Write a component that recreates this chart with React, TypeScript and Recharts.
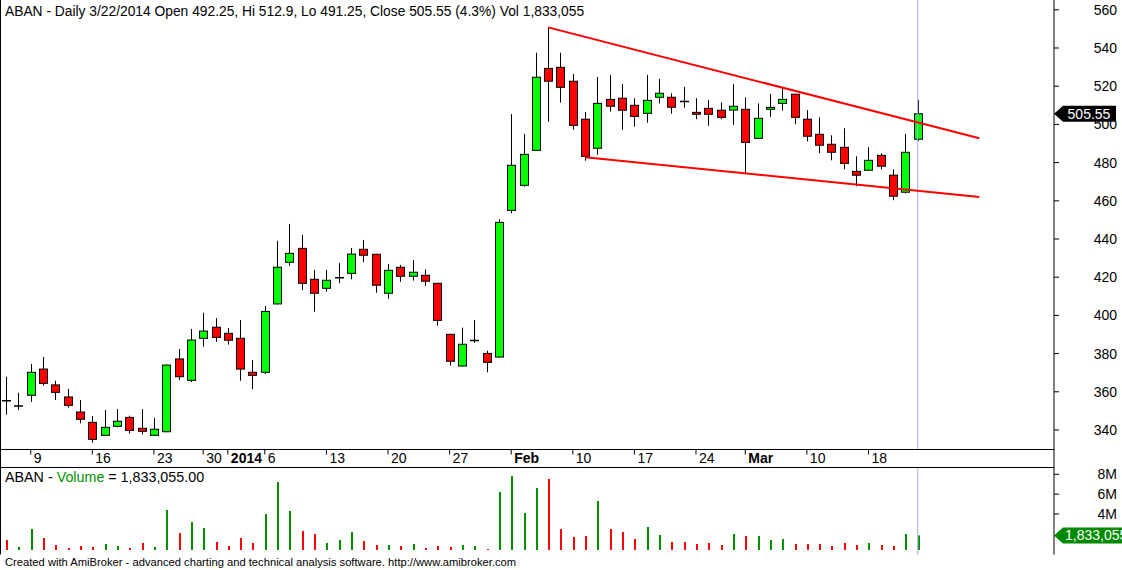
import React from 'react';
import { ComposedChart, Bar, XAxis, YAxis, ReferenceLine } from 'recharts';

// ---------- data ----------
const dates = [
  '2013-12-05', '2013-12-06', '2013-12-09', '2013-12-10', '2013-12-11', '2013-12-12', '2013-12-13',
  '2013-12-16', '2013-12-17', '2013-12-18', '2013-12-19', '2013-12-20', '2013-12-23', '2013-12-24',
  '2013-12-26', '2013-12-27', '2013-12-30', '2013-12-31', '2014-01-01', '2014-01-02', '2014-01-03',
  '2014-01-06', '2014-01-07', '2014-01-08', '2014-01-09', '2014-01-10', '2014-01-13', '2014-01-14',
  '2014-01-15', '2014-01-16', '2014-01-17', '2014-01-20', '2014-01-21', '2014-01-22', '2014-01-23',
  '2014-01-24', '2014-01-27', '2014-01-28', '2014-01-29', '2014-01-30', '2014-01-31', '2014-02-03',
  '2014-02-04', '2014-02-05', '2014-02-06', '2014-02-07', '2014-02-10', '2014-02-11', '2014-02-12',
  '2014-02-13', '2014-02-14', '2014-02-17', '2014-02-18', '2014-02-19', '2014-02-20', '2014-02-21',
  '2014-02-24', '2014-02-25', '2014-02-26', '2014-02-28', '2014-03-03', '2014-03-04', '2014-03-05',
  '2014-03-06', '2014-03-07', '2014-03-10', '2014-03-11', '2014-03-12', '2014-03-13', '2014-03-14',
  '2014-03-18', '2014-03-19', '2014-03-20', '2014-03-21', '2014-03-22',
];

const opens = [
  355.3, 352.6, 358.2, 371.9, 363.6, 357.3, 349.4, 344.0, 337.2, 341.9, 346.6, 340.9, 337.2, 339.1,
  377.2, 366.0, 388.0, 393.8, 390.6, 388.0, 370.2, 370.2, 406.0, 427.8, 435.1, 418.9, 414.2, 419.7,
  422.0, 434.6, 432.0, 411.6, 425.2, 420.5, 421.0, 416.8, 390.1, 373.5, 386.8, 380.1, 378.2, 455.0,
  468.1, 486.4, 529.3, 529.9, 522.6, 502.7, 487.5, 513.1, 513.7, 510.0, 505.8, 514.2, 514.2, 512.0,
  506.3, 508.4, 507.4, 507.5, 507.9, 492.7, 507.9, 511.0, 515.8, 502.7, 494.8, 489.6, 488.0, 475.4,
  476.0, 483.8, 473.4, 464.5, 492.25,
];
const highs = [
  367.9, 359.5, 374.6, 378.2, 365.8, 361.5, 355.7, 347.3, 350.5, 351.0, 347.5, 351.0, 346.4, 374.2,
  382.4, 392.9, 401.4, 398.6, 393.4, 397.6, 376.6, 404.9, 439.1, 447.9, 442.1, 423.8, 423.8, 427.4,
  435.3, 439.5, 432.3, 426.9, 426.4, 429.0, 424.1, 417.0, 390.3, 393.6, 397.6, 381.5, 450.3, 505.4,
  495.0, 537.5, 550.8, 537.5, 526.4, 506.5, 524.8, 525.9, 521.2, 513.7, 525.9, 523.8, 516.3, 519.6,
  513.7, 512.8, 511.5, 521.2, 514.2, 511.0, 515.9, 518.9, 516.0, 507.5, 503.7, 494.3, 498.0, 483.3,
  488.0, 484.9, 476.5, 495.0, 512.9,
];
const lows = [
  348.0, 350.5, 354.7, 363.2, 355.7, 351.7, 343.5, 333.4, 337.0, 341.4, 338.1, 337.7, 337.0, 338.8,
  366.2, 365.1, 383.6, 386.2, 384.7, 365.8, 361.3, 369.3, 405.8, 426.0, 413.3, 401.9, 412.4, 416.8,
  418.9, 427.8, 411.9, 408.7, 417.6, 418.2, 415.5, 394.6, 373.7, 373.3, 385.7, 370.2, 378.0, 453.5,
  467.4, 486.2, 501.4, 511.4, 497.2, 481.0, 484.1, 506.7, 497.2, 498.8, 500.9, 511.0, 505.6, 508.7,
  502.7, 499.3, 502.7, 499.8, 474.4, 492.5, 504.0, 507.2, 500.1, 491.1, 484.9, 481.2, 476.5, 467.6,
  475.8, 476.5, 460.3, 463.9, 491.25,
];
const closes = [
  355.1, 352.6, 370.2, 364.4, 359.7, 352.9, 345.6, 335.1, 341.4, 344.6, 339.8, 339.3, 340.4, 374.0,
  367.9, 387.1, 391.8, 388.5, 387.0, 371.9, 368.6, 402.1, 425.2, 432.5, 416.8, 411.6, 418.4, 419.7,
  432.1, 431.5, 415.8, 423.6, 420.5, 422.6, 417.9, 397.4, 376.0, 384.9, 386.8, 375.4, 448.7, 478.6,
  484.3, 524.7, 522.6, 519.4, 499.5, 483.3, 511.0, 509.5, 507.4, 504.2, 512.6, 516.3, 509.0, 511.85,
  505.3, 505.3, 503.7, 509.5, 490.6, 503.2, 508.9, 513.1, 503.7, 493.8, 489.1, 485.4, 479.6, 473.4,
  481.2, 478.1, 462.4, 485.4, 505.55,
];
const volumes = [
  1372000, 666000, 2482000, 1574000, 868000, 565000, 767000, 666000, 969000, 767000, 565000, 1070000,
  666000, 4400000, 2079000, 3189000, 2583000, 1171000, 767000, 1574000, 1070000, 3996000, 7225000,
  4299000, 2281000, 1978000, 1070000, 1372000, 2180000, 1271000, 868000, 868000, 767000, 969000,
  565000, 767000, 666000, 868000, 767000, 464000, 6216000, 7830000, 4097000, 6620000, 7528000,
  2482000, 1675000, 1776000, 5308000, 2482000, 2180000, 1473000, 2684000, 1877000, 1171000, 1171000,
  969000, 1070000, 868000, 1978000, 1776000, 1776000, 1372000, 1473000, 969000, 969000, 969000,
  767000, 1070000, 868000, 1070000, 868000, 767000, 1978000, 1833055,
];

const dateTickBars = [3, 8, 13, 17, 19, 22, 27, 32, 37, 42, 47, 52, 57, 61, 66, 71];
const dateTickLabels = ['9', '16', '23', '30', '2014', '6', '13', '20', '27', 'Feb', '10', '17', '24', 'Mar', '10', '18'];
const dateTickBold = [false, false, false, false, true, false, false, false, false, true, false, false, false, true, false, false];

const priceTicks = [340, 360, 380, 400, 420, 440, 460, 480, 500, 520, 540, 560];
const volumeTicks = [4000000, 6000000, 8000000];

const upperTrend = [{ x: 45, y: 550.8 }, { x: 80, y: 492.7 }];
const lowerTrend = [{ x: 48, y: 482.8 }, { x: 80, y: 462.0 }];

const lastBar = 75;
const lastClose = 505.55;
const lastVolume = 1833055;

// ---------- setup ----------
const FONT = "'Liberation Sans', Arial, sans-serif";
const X_DOMAIN: [number, number] = [0.505, 86.06];
const PRICE_DOMAIN: [number, number] = [329.79, 565.13];
const VOL_DOMAIN: [number, number] = [-90800, 8686000];
const VOL_BASE = 363000;

const rows = dates.map((d, k) => ({
  i: k + 1,
  date: d,
  open: opens[k],
  high: highs[k],
  low: lows[k],
  close: closes[k],
  volume: volumes[k],
}));

const Candle = (props: any) => {
  const { x, y, width, height, payload } = props;
  if (payload == null || x == null || y == null) return null;
  const top = Math.min(y, y + height);
  const bot = Math.max(y, y + height);
  const { open, close, high, low } = payload;
  const span = high - low || 1;
  const toY = (v: number) => top + ((high - v) / span) * (bot - top);
  const cx = Math.round(x + width / 2);
  const yo = toY(open);
  const yc = toY(close);
  const up = close >= open;
  const doji = Math.abs(close - open) < 0.3;
  return (
    <g>
      <line x1={cx + 0.5} x2={cx + 0.5} y1={top} y2={bot} stroke="#000" strokeWidth={1} />
      {doji ? (
        <line x1={cx - 4} x2={cx + 5} y1={yo} y2={yo} stroke="#000" strokeWidth={1.5} />
      ) : (
        <rect
          x={cx - 3.5}
          y={Math.min(yo, yc)}
          width={8}
          height={Math.max(Math.abs(yc - yo), 1)}
          fill={up ? '#00ff00' : '#ff0000'}
          stroke="#000"
          strokeWidth={1}
        />
      )}
    </g>
  );
};

const VolBar = (props: any) => {
  const { x, y, width, height, payload } = props;
  if (payload == null || x == null || y == null) return null;
  const top = Math.min(y, y + height);
  const bot = Math.max(y, y + height);
  const cx = Math.round(x + width / 2);
  const up = payload.close >= payload.open;
  return <rect x={cx} y={top} width={2} height={bot - top} fill={up ? '#009000' : '#ff0000'} />;
};

const DateTick = (props: any) => {
  const { x, y, payload } = props;
  const k = dateTickBars.indexOf(payload.value);
  if (k < 0) return null;
  return (
    <text
      x={x + 3}
      y={y + 8}
      fontSize={14}
      fontFamily={FONT}
      fontWeight={dateTickBold[k] ? 'bold' : 'normal'}
      fill="#000"
    >
      {dateTickLabels[k]}
    </text>
  );
};

const PriceTick = (props: any) => {
  const { x, y, payload } = props;
  return (
    <text x={x + 58} y={y + 5} textAnchor="end" fontSize={14} fontFamily={FONT} fill="#000">
      {payload.value}
    </text>
  );
};

const VolTick = (props: any) => {
  const { x, y, payload } = props;
  return (
    <text x={x + 58} y={y + 5} textAnchor="end" fontSize={14} fontFamily={FONT} fill="#000">
      {`${payload.value / 1000000}M`}
    </text>
  );
};

const PriceBadge = (props: any) => {
  const vb = props.viewBox;
  if (!vb) return null;
  const xr = vb.x + vb.width;
  const yy = vb.y;
  return (
    <g>
      <polygon
        points={`${xr},${yy} ${xr + 9},${yy - 8} ${xr + 62},${yy - 8} ${xr + 62},${yy + 8} ${xr + 9},${yy + 8}`}
        fill="#000"
      />
      <text x={xr + 35} y={yy + 5} textAnchor="middle" fontSize={14} fontFamily={FONT} fill="#fff">
        {lastClose.toFixed(2)}
      </text>
    </g>
  );
};

const VolBadge = (props: any) => {
  const vb = props.viewBox;
  if (!vb) return null;
  const xr = vb.x + vb.width;
  const yy = vb.y;
  return (
    <g>
      <polygon
        points={`${xr},${yy} ${xr + 9},${yy - 8} ${xr + 80},${yy - 8} ${xr + 80},${yy + 8} ${xr + 9},${yy + 8}`}
        fill="#008a00"
      />
      <text x={xr + 11} y={yy + 5} fontSize={14} fontFamily={FONT} fill="#fff">
        {lastVolume.toLocaleString('en-US')}
      </text>
    </g>
  );
};

export default function App() {
  return (
    <div
      style={{
        position: 'absolute',
        left: 0,
        top: 0,
        width: 1122,
        height: 570,
        background: '#fff',
        overflow: 'hidden',
        fontFamily: FONT,
      }}
    >
      <div style={{ position: 'absolute', left: 0, top: 0 }}>
        <ComposedChart width={1122} height={468} data={rows} margin={{ top: 0, right: 0, bottom: 0, left: 0 }}>
          <XAxis
            dataKey="i"
            type="number"
            domain={X_DOMAIN}
            allowDataOverflow
            ticks={dateTickBars}
            interval={0}
            tick={<DateTick />}
            tickSize={5}
            tickMargin={0}
            height={18.5}
            axisLine={{ stroke: '#000' }}
            tickLine={{ stroke: '#000' }}
          />
          <YAxis
            orientation="right"
            type="number"
            domain={PRICE_DOMAIN}
            allowDataOverflow
            ticks={priceTicks}
            interval={0}
            width={68}
            tick={<PriceTick />}
            tickSize={5}
            tickMargin={0}
            axisLine={{ stroke: '#000' }}
            tickLine={{ stroke: '#000' }}
          />
          <ReferenceLine x={lastBar} stroke="#a8acf0" strokeWidth={1} />
          <Bar
            dataKey={(d: any) => [d.low, d.high]}
            shape={<Candle />}
            barSize={10.3}
            isAnimationActive={false}
          />
          <ReferenceLine segment={upperTrend} stroke="#ff0000" strokeWidth={2} />
          <ReferenceLine segment={lowerTrend} stroke="#ff0000" strokeWidth={2} />
          <ReferenceLine y={lastClose} stroke="none" label={(p: any) => <PriceBadge {...p} />} />
        </ComposedChart>
      </div>

      <div style={{ position: 'absolute', left: 0, top: 460 }}>
        <ComposedChart width={1122} height={95} data={rows} margin={{ top: 7.5, right: 0, bottom: 0.5, left: 0 }}>
          <XAxis dataKey="i" type="number" domain={X_DOMAIN} allowDataOverflow hide />
          <YAxis
            orientation="right"
            type="number"
            domain={VOL_DOMAIN}
            allowDataOverflow
            ticks={volumeTicks}
            interval={0}
            width={68}
            tick={<VolTick />}
            tickSize={5}
            tickMargin={0}
            axisLine={{ stroke: '#000' }}
            tickLine={{ stroke: '#000' }}
          />
          <ReferenceLine x={lastBar} stroke="#a8acf0" strokeWidth={1} />
          <Bar
            dataKey={(d: any) => [VOL_BASE, d.volume]}
            shape={<VolBar />}
            barSize={10.3}
            isAnimationActive={false}
          />
          <ReferenceLine y={lastVolume} stroke="none" label={(p: any) => <VolBadge {...p} />} />
        </ComposedChart>
      </div>

      <svg
        width={1122}
        height={570}
        style={{ position: 'absolute', left: 0, top: 0, pointerEvents: 'none' }}
      >
        <line x1={0.5} x2={0.5} y1={0} y2={554.5} stroke="#000" strokeWidth={1} />
        <line x1={0} x2={1054} y1={467.5} y2={467.5} stroke="#000" strokeWidth={1} />
        <line x1={1054} x2={1054} y1={449} y2={468} stroke="#000" strokeWidth={1} />
        <text x={5} y={15.5} fontSize={13.8} fontFamily={FONT} fill="#000">
          ABAN - Daily 3/22/2014 Open 492.25, Hi 512.9, Lo 491.25, Close 505.55 (4.3%) Vol 1,833,055
        </text>
        <text x={5} y={481.7} fontSize={14.3} fontFamily={FONT} fill="#000">
          ABAN - <tspan fill="#009000">Volume</tspan> = 1,833,055.00
        </text>
        <text x={5} y={566} fontSize={11.2} fontFamily={FONT} fill="#000">
          Created with AmiBroker - advanced charting and technical analysis software. http://www.amibroker.com
        </text>
      </svg>
    </div>
  );
}
